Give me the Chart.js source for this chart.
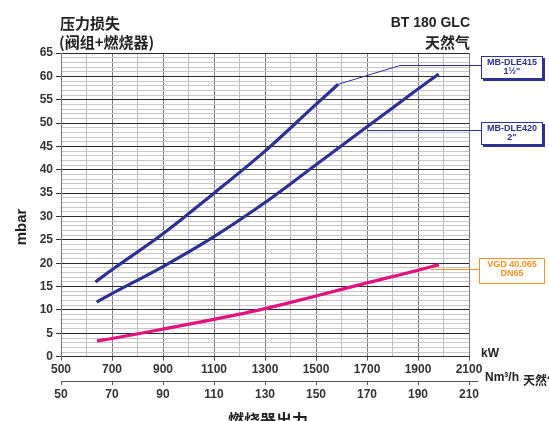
<!DOCTYPE html>
<html>
<head>
<meta charset="utf-8">
<script src="https://cdn.jsdelivr.net/npm/chart.js@4.4.1/dist/chart.umd.min.js"></script>
<style>
  body { margin: 0; background: #fff; }
  canvas { display: block; }
</style>
</head>
<body>
<canvas id="lossChart" width="549" height="421"></canvas>
<script>
// burner output (kW) and pressure loss (mbar)
const dle415Kw = [635, 700, 900, 1100, 1300, 1500, 1587];
const dle415Mbar = [16.0, 18.6, 26.3, 35.0, 44.0, 54.0, 58.3];

const dle420Kw = [640, 700, 900, 1100, 1300, 1500, 1700, 1900, 1981];
const dle420Mbar = [11.7, 13.5, 19.3, 25.7, 33.0, 41.1, 49.2, 57.3, 60.5];

const vgdKw = [641, 700, 900, 1100, 1300, 1500, 1700, 1900, 1982];
const vgdMbar = [3.4, 3.9, 5.9, 8.0, 10.3, 13.0, 15.8, 18.5, 19.7];

const kwTicks = [500, 700, 900, 1100, 1300, 1500, 1700, 1900, 2100];
const nmTicks = [50, 70, 90, 110, 130, 150, 170, 190, 210];
const mbarTicks = [0, 5, 10, 15, 20, 25, 30, 35, 40, 45, 50, 55, 60, 65];

const BLUE = '#2e3192';
const PINK = '#e2137d';
const ORANGE = '#f39323';
const SANS = '"Liberation Sans", Arial, sans-serif';
const CJK = '"Noto Sans CJK SC", sans-serif';

function toPoints(xs, ys) {
  return xs.map((x, i) => ({ x: x, y: ys[i] }));
}

function drawBox(ctx, x, y, w, h, color, lines, shadow) {
  if (shadow) {
    ctx.fillStyle = color;
    ctx.fillRect(x + 2, y + 2, w, h);
  }
  ctx.fillStyle = '#fff';
  ctx.fillRect(x, y, w, h);
  ctx.strokeStyle = color;
  ctx.lineWidth = 1;
  ctx.strokeRect(x + 0.5, y + 0.5, w - 1, h - 1);
  ctx.fillStyle = color;
  ctx.font = 'bold 9px ' + SANS;
  ctx.textAlign = 'center';
  ctx.textBaseline = 'middle';
  lines.forEach((t, i) => {
    ctx.fillText(t, x + w / 2, y + 7 + i * 9);
  });
}

const extras = {
  id: 'extras',
  afterDraw(chart) {
    const ctx = chart.ctx;
    const xs = chart.scales.x;
    const ys = chart.scales.y;
    ctx.save();

    // titles
    ctx.fillStyle = '#222';
    ctx.textBaseline = 'middle';
    ctx.textAlign = 'left';
    ctx.font = 'bold 15px ' + CJK;
    ctx.fillText('压力损失', 60, 23);
    ctx.fillText('(阀组+燃烧器)', 59, 42);
    ctx.textAlign = 'right';
    ctx.font = 'bold 14px ' + SANS;
    ctx.fillText('BT 180 GLC', 470, 23);
    ctx.font = 'bold 15px ' + CJK;
    ctx.fillText('天然气', 470, 42);

    // axis titles and units
    ctx.textAlign = 'left';
    ctx.font = 'bold 12px ' + SANS;
    ctx.fillText('kW', 481, 354);
    ctx.fillText('Nm\u00b3/h', 485, 378);
    ctx.font = 'bold 12px ' + CJK;
    ctx.fillText('天然气', 523, 380);
    ctx.textAlign = 'center';
    ctx.font = 'bold 16px ' + CJK;
    ctx.fillText('燃烧器出力', 268, 420);

    ctx.save();
    ctx.translate(22, 227);
    ctx.rotate(-Math.PI / 2);
    ctx.font = 'bold 15px ' + SANS;
    ctx.fillText('mbar', 0, 0);
    ctx.restore();

    // second axis line runs a bit past the plot
    ctx.strokeStyle = '#555';
    ctx.lineWidth = 1;
    ctx.beginPath();
    ctx.moveTo(xs.right, 381.5);
    ctx.lineTo(478, 381.5);
    ctx.stroke();

    // leader lines
    ctx.strokeStyle = BLUE;
    ctx.beginPath();
    ctx.moveTo(xs.getPixelForValue(dle415Kw[dle415Kw.length - 1]), ys.getPixelForValue(dle415Mbar[dle415Mbar.length - 1]));
    ctx.lineTo(400, 65.5);
    ctx.lineTo(481, 65.5);
    ctx.stroke();

    ctx.beginPath();
    ctx.moveTo(xs.getPixelForValue(1700), 130.5);
    ctx.lineTo(481, 130.5);
    ctx.stroke();

    ctx.strokeStyle = ORANGE;
    ctx.beginPath();
    ctx.moveTo(xs.getPixelForValue(1950), 269.5);
    ctx.lineTo(479, 269.5);
    ctx.stroke();

    drawBox(ctx, 481, 56, 62, 23, BLUE, ['MB-DLE415', '1\u00bd"'], true);
    drawBox(ctx, 481, 122, 62, 23, BLUE, ['MB-DLE420', '2"'], true);
    drawBox(ctx, 479, 258, 66, 26, ORANGE, ['VGD 40.065', 'DN65'], false);

    ctx.restore();
  }
};

const lineStyle = {
  borderWidth: 3.2,
  pointRadius: 0,
  fill: false,
  cubicInterpolationMode: 'monotone'
};

new Chart(document.getElementById('lossChart'), {
  type: 'line',
  data: {
    datasets: [
      Object.assign({ label: 'MB-DLE415 1½"', data: toPoints(dle415Kw, dle415Mbar), borderColor: BLUE }, lineStyle),
      Object.assign({ label: 'MB-DLE420 2"', data: toPoints(dle420Kw, dle420Mbar), borderColor: BLUE }, lineStyle),
      Object.assign({ label: 'VGD 40.065 DN65', data: toPoints(vgdKw, vgdMbar), borderColor: PINK }, lineStyle)
    ]
  },
  options: {
    responsive: false,
    animation: false,
    layout: { padding: { top: 53, right: 80, left: 0, bottom: 0 } },
    plugins: {
      legend: { display: false },
      tooltip: { enabled: false }
    },
    scales: {
      x: {
        type: 'linear',
        position: 'bottom',
        min: 500,
        max: 2100,
        afterFit: s => { s.height = 24.3; },
        ticks: {
          stepSize: 100,
          autoSkip: false,
          maxRotation: 0,
          padding: 2,
          color: '#333',
          font: { family: SANS, size: 12, weight: 'bold' },
          callback: v => kwTicks.includes(v) ? v : ''
        },
        grid: {
          color: c => kwTicks.includes(c.tick.value) ? '#7a7a7a' : '#bdbdbd',
          tickColor: c => kwTicks.includes(c.tick.value) ? '#555' : 'rgba(0,0,0,0)',
          tickLength: 4
        },
        border: { color: '#333' }
      },
      x2: {
        type: 'linear',
        position: 'bottom',
        min: 50,
        max: 210,
        afterFit: s => { s.height = 40; },
        afterBuildTicks: s => { s.ticks = nmTicks.map(v => ({ value: v })); },
        ticks: {
          autoSkip: false,
          maxRotation: 0,
          padding: 2,
          color: '#333',
          font: { family: SANS, size: 12, weight: 'bold' }
        },
        grid: { drawOnChartArea: false, tickLength: 4, tickColor: '#555' },
        border: { color: '#555' }
      },
      y: {
        min: 0,
        max: 65,
        afterFit: s => { s.width = 61; },
        ticks: {
          stepSize: 1,
          autoSkip: false,
          padding: 3,
          color: '#333',
          font: { family: SANS, size: 12, weight: 'bold' },
          callback: v => mbarTicks.includes(v) ? v : ''
        },
        grid: {
          color: c => mbarTicks.includes(c.tick.value) ? '#2a2a2a' : '#c6c6c6',
          tickColor: c => mbarTicks.includes(c.tick.value) ? '#333' : 'rgba(0,0,0,0)',
          tickLength: 5
        },
        border: { color: '#777' }
      }
    }
  },
  plugins: [extras]
});
</script>
</body>
</html>
